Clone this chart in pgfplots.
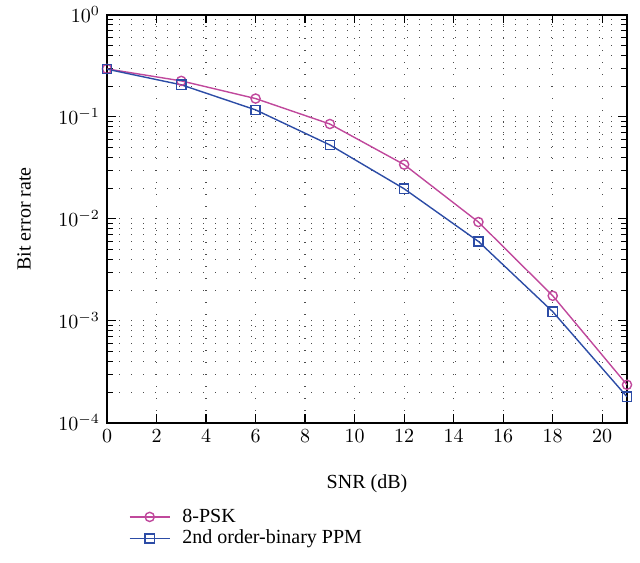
\documentclass[border=0pt]{standalone}
\usepackage{pgfplots}
\pgfplotsset{compat=1.18}
\usepackage{fontspec}
\setmainfont{Liberation Serif}
\definecolor{cpsk}{RGB}{192,72,156}
\definecolor{cppm}{RGB}{44,76,166}
\begin{document}
\begin{tikzpicture}
\begin{axis}[
  width=260pt, height=204pt, scale only axis,
  ymode=log,
  xmin=0, xmax=21, ymin=1e-4, ymax=1,
  xtick={0,2,...,20},
  ytick={1e-4,1e-3,1e-2,1e-1,1},
  tick align=inside,
  grid=both,
  xminorgrids=false,
  major grid style={dash pattern=on 0.6pt off 5.4pt, black!70, line width=0.6pt},
  minor grid style={dash pattern=on 0.6pt off 5.4pt, black!70, line width=0.6pt},
  axis line style={black, line width=0.7pt},
  tick style={black, line width=0.6pt},
  xlabel={SNR (dB)},
  ylabel={Bit error rate},
  xlabel style={yshift=-9pt},
  ylabel style={yshift=7pt},
  legend style={at={(0.03,-0.19)}, anchor=north west, draw=none, fill=none, font=\normalsize, row sep=-1.5pt, column sep=4pt},
  legend cell align=left,
  legend image code/.code={
    \draw[#1,mark repeat=2,mark phase=2] plot coordinates {(0pt,0pt) (10pt,0pt) (20pt,0pt)};
  },
]
\addplot[cpsk, line width=0.7pt, mark=o, mark size=2.3pt] coordinates {
(0,0.295) (3,0.225) (6,0.151) (9,0.085) (12,0.034) (15,0.0093) (18,0.00176) (21,0.000236)
};
\addlegendentry{8-PSK}
\addplot[cppm, line width=0.7pt, mark=square, mark size=2.3pt] coordinates {
(0,0.293) (3,0.206) (6,0.117) (9,0.053) (12,0.0197) (15,0.006) (18,0.00123) (21,0.00018)
};
\addlegendentry{2nd order-binary PPM}
\end{axis}
\path[use as bounding box] ([xshift=-53.5pt,yshift=-70pt]current axis.south west) rectangle ([xshift=6.5pt,yshift=6pt]current axis.north east);
\end{tikzpicture}
\end{document}
